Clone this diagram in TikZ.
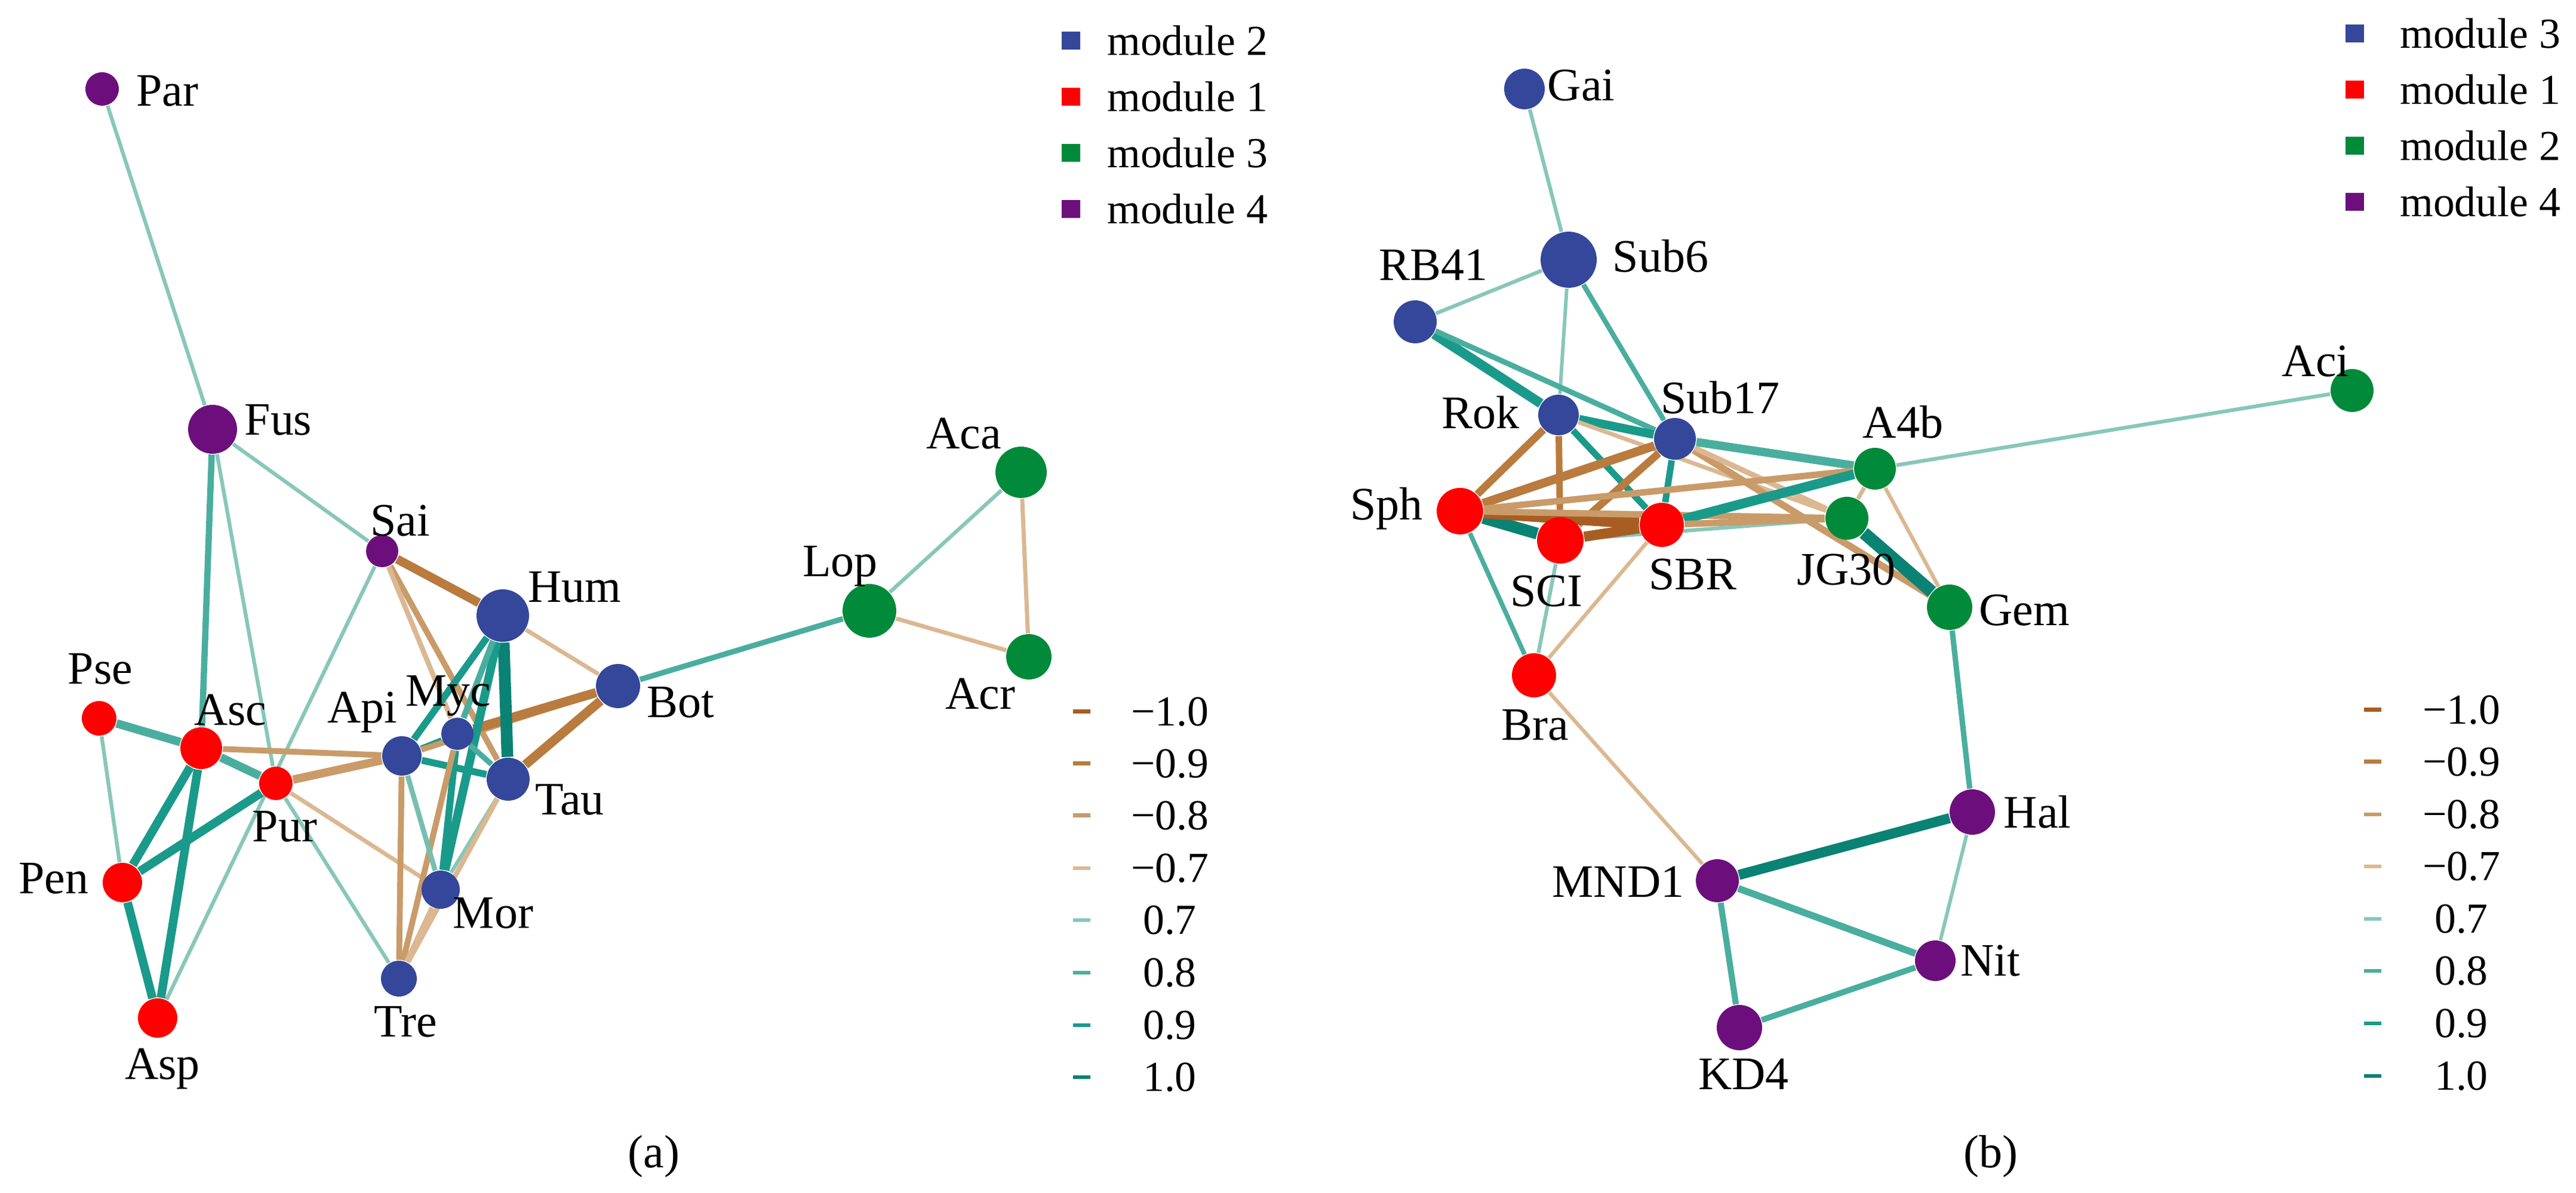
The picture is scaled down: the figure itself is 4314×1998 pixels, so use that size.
\documentclass[tikz,border=0pt]{standalone}
\usepackage{fontspec}
\setmainfont{Liberation Serif}
\newfontfamily\taxfont{Liberation Serif}
\usetikzlibrary{backgrounds}

\definecolor{modblue}{HTML}{34479A}
\definecolor{modred}{HTML}{FF0000}
\definecolor{modgreen}{HTML}{008A3A}
\definecolor{modpurple}{HTML}{6C0F7C}
\definecolor{neg10}{HTML}{A85E22}
\definecolor{neg09}{HTML}{B97B3E}
\definecolor{neg08}{HTML}{C99B69}
\definecolor{neg07}{HTML}{DBB892}
\definecolor{pos07}{HTML}{88C7B9}
\definecolor{pos08}{HTML}{4AAE9F}
\definecolor{pos09}{HTML}{1A9A8A}
\definecolor{pos10}{HTML}{0A8274}

\tikzset{
  taxon/.style={circle, inner sep=0pt, draw=none},
  lab/.style={font=\taxfont\fontsize{11.1pt}{13pt}\selectfont, inner sep=0pt},
  leg/.style={font=\taxfont\fontsize{10.2pt}{12pt}\selectfont, inner sep=0pt},
}

\begin{document}
\begin{tikzpicture}[x=0.005cm, y=-0.005cm]
\tikzstyle{m1} = [taxon, fill=modred]
\tikzstyle{m2} = [taxon, fill=modblue]
\tikzstyle{m3} = [taxon, fill=modgreen]
\tikzstyle{m4} = [taxon, fill=modpurple]
\tikzstyle{n10} = [draw=neg10, line width=2.7pt]
\tikzstyle{n09} = [draw=neg09, line width=2.1pt]
\tikzstyle{n08} = [draw=neg08, line width=1.4pt]
\tikzstyle{n07} = [draw=neg07, line width=1pt]
\tikzstyle{p07} = [draw=pos07, line width=0.9pt]
\tikzstyle{p08} = [draw=pos08, line width=1.45pt]
\tikzstyle{p09} = [draw=pos09, line width=2.05pt]
\tikzstyle{p10} = [draw=pos10, line width=2.8pt]
\tikzstyle{swatch} = [rectangle, inner sep=0pt, minimum width=0.155cm, minimum height=0.155cm]
\tikzstyle{rdash} = [rectangle, inner sep=0pt, minimum width=0.145cm, minimum height=0.035cm]
\useasboundingbox (0,0) rectangle (4314,1998);
%
% (a) taxa
\node (Par) [m4, minimum size=0.28cm] at (171,149)  {};
\node (Fus) [m4, minimum size=0.41cm] at (356,719)  {};
\node (Sai) [m4, minimum size=0.27cm] at (640,923)  {};
\node (Hum) [m2, minimum size=0.44cm] at (842,1031) {};
\node (Bot) [m2, minimum size=0.37cm] at (1035,1149) {};
\node (Pse) [m1, minimum size=0.29cm] at (166,1203) {};
\node (Asc) [m1, minimum size=0.35cm] at (337,1253) {};
\node (Pur) [m1, minimum size=0.28cm] at (462,1312) {};
\node (Api) [m2, minimum size=0.33cm] at (673,1266) {};
\node (Myc) [m2, minimum size=0.27cm] at (766,1229) {};
\node (Tau) [m2, minimum size=0.36cm] at (851,1305) {};
\node (Pen) [m1, minimum size=0.33cm] at (205,1478) {};
\node (Mor) [m2, minimum size=0.32cm] at (738,1490) {};
\node (Tre) [m2, minimum size=0.30cm] at (668,1639) {};
\node (Asp) [m1, minimum size=0.33cm] at (264,1705) {};
\node (Lop) [m3, minimum size=0.45cm] at (1456,1023) {};
\node (Aca) [m3, minimum size=0.43cm] at (1710,791)  {};
\node (Acr) [m3, minimum size=0.38cm] at (1723,1100) {};
%
\node (Par-t) [lab] at (280,152)   {Par};
\node (Fus-t) [lab] at (466,703)   {Fus};
\node (Sai-t) [lab] at (670,872)   {Sai};
\node (Hum-t) [lab] at (962,983)   {Hum};
\node (Bot-t) [lab] at (1140,1176) {Bot};
\node (Pse-t) [lab] at (168,1120)  {Pse};
\node (Asc-t) [lab] at (386,1189)  {Asc};
\node (Api-t) [lab] at (607,1193)  {Api};
\node (Myc-t) [lab] at (751,1165)  {Myc};
\node (Tau-t) [lab] at (954,1339)  {Tau};
\node (Pur-t) [lab] at (477,1384)  {Pur};
\node (Pen-t) [lab] at (90,1471)   {Pen};
\node (Mor-t) [lab] at (826,1529)  {Mor};
\node (Tre-t) [lab] at (679,1711)  {Tre};
\node (Asp-t) [lab] at (272,1790)  {Asp};
\node (Lop-t) [lab] at (1407,948)  {Lop};
\node (Aca-t) [lab] at (1614,726)  {Aca};
\node (Acr-t) [lab] at (1642,1162) {Acr};
%
% (b) taxa
\node (Gai)   [m2, minimum size=0.34cm] at (2553,149)  {};
\node (Sub6)  [m2, minimum size=0.47cm] at (2627,435)  {};
\node (RB41)  [m2, minimum size=0.36cm] at (2370,539)  {};
\node (Rok)   [m2, minimum size=0.34cm] at (2610,695)  {};
\node (Sub17) [m2, minimum size=0.35cm] at (2805,735)  {};
\node (A4b)   [m3, minimum size=0.35cm] at (3140,785)  {};
\node (Aci)   [m3, minimum size=0.36cm] at (3939,654)  {};
\node (Sph)   [m1, minimum size=0.39cm] at (2445,856)  {};
\node (SCI)   [m1, minimum size=0.39cm] at (2613,905)  {};
\node (SBR)   [m1, minimum size=0.37cm] at (2783,879)  {};
\node (JG30)  [m3, minimum size=0.36cm] at (3093,868)  {};
\node (Gem)   [m3, minimum size=0.38cm] at (3265,1017) {};
\node (Bra)   [m1, minimum size=0.37cm] at (2569,1131) {};
\node (Hal)   [m4, minimum size=0.38cm] at (3303,1360) {};
\node (MND1)  [m4, minimum size=0.36cm] at (2876,1475) {};
\node (Nit)   [m4, minimum size=0.34cm] at (3241,1609) {};
\node (KD4)   [m4, minimum size=0.38cm] at (2913,1721) {};
%
\node (Gai-t)   [lab] at (2648,143)  {Gai};
\node (Sub6-t)  [lab] at (2781,429)  {Sub6};
\node (RB41-t)  [lab] at (2400,444)  {RB41};
\node (Rok-t)   [lab] at (2479,691)  {Rok};
\node (Sub17-t) [lab] at (2881,666)  {Sub17};
\node (A4b-t)   [lab] at (3187,707)  {A4b};
\node (Aci-t)   [lab] at (3878,605)  {Aci};
\node (Sph-t)   [lab] at (2322,852)  {Sph};
\node (SCI-t)   [lab] at (2590,990)  {SCI};
\node (SBR-t)   [lab] at (2835,962)  {SBR};
\node (JG30-t)  [lab] at (3092,954)  {JG30};
\node (Gem-t)   [lab] at (3390,1022) {Gem};
\node (Bra-t)   [lab] at (2571,1214) {Bra};
\node (Hal-t)   [lab] at (3412,1360) {Hal};
\node (MND1-t)  [lab] at (2710,1477) {MND1};
\node (Nit-t)   [lab] at (3333,1609) {Nit};
\node (KD4-t)   [lab] at (2920,1799) {KD4};
%
% edges (a)
\begin{scope}[on background layer]
\draw [p07] (Par) -- (Fus);
\draw [p08, line width=1.5pt] (Fus) -- (Asc);
\draw [p07] (Fus) -- (Pur);
\draw [p07] (Fus) -- (Sai);
\draw [n09] (Sai) -- (Hum);
\draw [n08] (Sai) -- (Tau);
\draw [n07, line width=1.2pt] (Sai) -- (Myc);
\draw [p07] (Sai) -- (Asp);
\draw [p08, line width=2pt] (Pse) -- (Asc);
\draw [p07] (Pse) -- (Pen);
\draw [p08, line width=2pt] (Asc) -- (Pur);
\draw [p09] (Asc) -- (Pen);
\draw [p09] (Asc) -- (Asp);
\draw [p09] (Pen) -- (Pur);
\draw [p09] (Pen) -- (Asp);
\draw [n08] (Asc) -- (Api);
\draw [n08, line width=2pt] (Pur) -- (Api);
\draw [n07] (Pur) -- (Mor);
\draw [p07] (Pur) -- (Tre);
\draw [p09, line width=1.65pt] (Api) -- (Hum);
\draw [p09, line width=1.3pt] (Api) -- (Myc);
\draw [p09, line width=1.65pt] (Api) -- (Tau);
\draw [n08] (Api) -- (Bot);
\draw [n09, line width=2.2pt] (Myc) -- (Bot);
\draw [n09, line width=2.2pt] (Tau) -- (Bot);
\draw [n07] (Hum) -- (Bot);
\draw [p10] (Hum) -- (Tau);
\draw [p09] (Hum) -- (Mor);
\draw [p08] (Hum) -- (Myc);
\draw [p08, line width=1.3pt] (Myc) -- (Tau);
\draw [p09, line width=1.65pt] (Myc) -- (Mor);
\draw [n08] (Myc) -- (Tre);
\draw [n08] (Api) -- (Tre);
\draw [p08, draw=pos07!70!pos08, line width=1.2pt] (Api) -- (Mor);
\draw [p07] (Tau) -- (Mor);
\draw [n07, line width=1.2pt] (Tau) -- (Tre);
\draw [n07, line width=1.3pt] (Mor) -- (Tre);
\draw [p08, line width=1.3pt] (Bot) -- (Lop);
\draw [p07] (Lop) -- (Aca);
\draw [n07] (Lop) -- (Acr);
\draw [n07] (Aca) -- (Acr);
%
% edges (b)
\draw [p07] (Gai) -- (Sub6);
\draw [p07] (Sub6) -- (RB41);
\draw [p07, line width=0.85pt] (Sub6) -- (Rok);
\draw [p08, line width=1.2pt] (Sub6) -- (Sub17);
\draw [p09, line width=2.3pt] (RB41) -- (Rok);
\draw [p08, line width=1.3pt] (RB41) -- (Sub17);
\draw [p09] (Rok) -- (Sub17);
\draw [n09, line width=1.8pt] (Rok) -- (Sph);
\draw [n09, line width=1.55pt] (Rok) -- (SCI);
\draw [p09, line width=1.55pt] (Rok) -- (SBR);
\draw [n07] (Rok) -- (JG30);
\draw [n09] (Sub17) -- (Sph);
\draw [n09, line width=1.8pt] (Sub17) -- (SCI);
\draw [p09, line width=1.55pt] (Sub17) -- (SBR);
\draw [p08, line width=2pt] (Sub17) -- (A4b);
\draw [n08, line width=1.65pt] (Sub17) -- (Gem);
\draw [n07, line width=1.3pt] (Sub17) -- (JG30);
\draw [p10] (Sph) -- (SCI);
\draw [n10] (Sph) -- (SBR);
\draw [n08, line width=1.55pt] (Sph) -- (A4b);
\draw [n08, line width=1.55pt] (Sph) -- (JG30);
\draw [p08, line width=1.1pt] (Sph) -- (Bra);
\draw [p07] (SCI) -- (Bra);
\draw [p07] (SCI) -- (JG30);
\draw [n10, line width=2.4pt] (SCI) -- (SBR);
\draw [p09, line width=2.3pt] (SBR) -- (A4b);
\draw [n08, line width=1.55pt] (SBR) -- (JG30);
\draw [n07, line width=0.9pt] (SBR) -- (Bra);
\draw [n07, line width=0.9pt] (Bra) -- (MND1);
\draw [p07] (A4b) -- (Aci);
\draw [n07] (A4b) -- (JG30);
\draw [n07, line width=0.9pt] (A4b) -- (Gem);
\draw [p10, line width=3pt] (JG30) -- (Gem);
\draw [p08, line width=1.3pt] (Gem) -- (Hal);
\draw [p10, line width=2.4pt] (Hal) -- (MND1);
\draw [p07, line width=0.85pt] (Hal) -- (Nit);
\draw [p08, line width=1.65pt] (MND1) -- (Nit);
\draw [p08] (MND1) -- (KD4);
\draw [p08, line width=1.4pt] (KD4) -- (Nit);
\end{scope}
%
% legend (a)
\node (a-m2) [swatch, fill=modblue]   at (1793,68)  {};
\node (a-m1) [swatch, fill=modred]    at (1793,162) {};
\node (a-m3) [swatch, fill=modgreen]  at (1793,256) {};
\node (a-m4) [swatch, fill=modpurple] at (1793,350) {};
\node (a-m2-t) [leg, anchor=west] at (1853,68)  {module 2};
\node (a-m1-t) [leg, anchor=west] at (1853,162) {module 1};
\node (a-m3-t) [leg, anchor=west] at (1853,256) {module 3};
\node (a-m4-t) [leg, anchor=west] at (1853,350) {module 4};
%
\node (a-r1) [rdash, fill=neg10] at (1811,1192) {};
\node (a-r2) [rdash, fill=neg09] at (1811,1279) {};
\node (a-r3) [rdash, fill=neg08] at (1811,1366) {};
\node (a-r4) [rdash, fill=neg07] at (1811,1454) {};
\node (a-r5) [rdash, fill=pos07] at (1811,1541) {};
\node (a-r6) [rdash, fill=pos08] at (1811,1629) {};
\node (a-r7) [rdash, fill=pos09] at (1811,1717) {};
\node (a-r8) [rdash, fill=pos10] at (1811,1804) {};
\node (a-r1-t) [leg] at (1959,1192) {−1.0};
\node (a-r2-t) [leg] at (1959,1279) {−0.9};
\node (a-r3-t) [leg] at (1959,1366) {−0.8};
\node (a-r4-t) [leg] at (1959,1454) {−0.7};
\node (a-r5-t) [leg] at (1959,1541) {0.7};
\node (a-r6-t) [leg] at (1959,1629) {0.8};
\node (a-r7-t) [leg] at (1959,1717) {0.9};
\node (a-r8-t) [leg] at (1959,1804) {1.0};
%
% legend (b)
\node (b-m3) [swatch, fill=modblue]   at (3943,56)  {};
\node (b-m1) [swatch, fill=modred]    at (3943,150) {};
\node (b-m2) [swatch, fill=modgreen]  at (3943,244) {};
\node (b-m4) [swatch, fill=modpurple] at (3943,338) {};
\node (b-m3-t) [leg, anchor=west] at (4018,56)  {module 3};
\node (b-m1-t) [leg, anchor=west] at (4018,150) {module 1};
\node (b-m2-t) [leg, anchor=west] at (4018,244) {module 2};
\node (b-m4-t) [leg, anchor=west] at (4018,338) {module 4};
%
\node (b-r1) [rdash, fill=neg10] at (3973,1189) {};
\node (b-r2) [rdash, fill=neg09] at (3973,1276) {};
\node (b-r3) [rdash, fill=neg08] at (3973,1364) {};
\node (b-r4) [rdash, fill=neg07] at (3973,1451) {};
\node (b-r5) [rdash, fill=pos07] at (3973,1539) {};
\node (b-r6) [rdash, fill=pos08] at (3973,1626) {};
\node (b-r7) [rdash, fill=pos09] at (3973,1714) {};
\node (b-r8) [rdash, fill=pos10] at (3973,1802) {};
\node (b-r1-t) [leg] at (4122,1189) {−1.0};
\node (b-r2-t) [leg] at (4122,1276) {−0.9};
\node (b-r3-t) [leg] at (4122,1364) {−0.8};
\node (b-r4-t) [leg] at (4122,1451) {−0.7};
\node (b-r5-t) [leg] at (4122,1539) {0.7};
\node (b-r6-t) [leg] at (4122,1626) {0.8};
\node (b-r7-t) [leg] at (4122,1714) {0.9};
\node (b-r8-t) [leg] at (4122,1802) {1.0};
%
\node (cap-a) [lab] at (1095,1937) {(a)};
\node (cap-b) [lab] at (3334,1937) {(b)};
\end{tikzpicture}
\end{document}
